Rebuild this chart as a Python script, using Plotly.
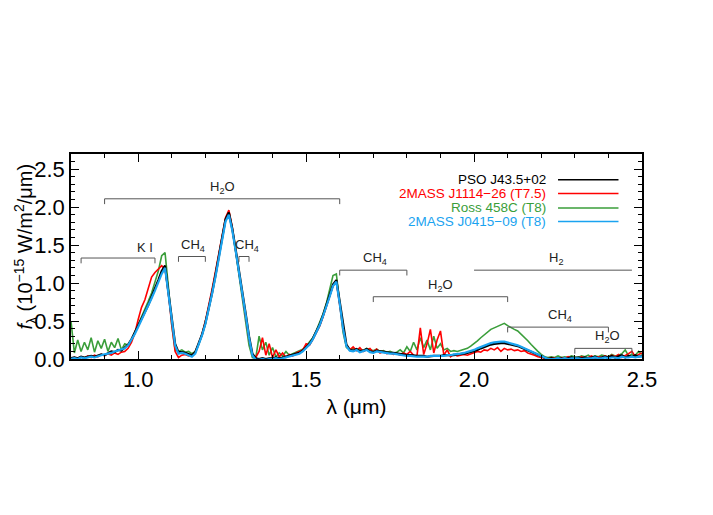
import numpy as np
import plotly.graph_objects as go

# wavelength grid (micron), 0.80 ... 2.50 in 0.01 steps
wave = np.round(np.linspace(0.80, 2.50, 171), 2)

# f_lambda in 1e-15 W/m2/um
pso = [0.01, 0.02, 0.01, 0.03, 0.02, 0.03, 0.04, 0.03, 0.05, 0.06,
       0.05, 0.08, 0.10, 0.09, 0.12, 0.11, 0.15, 0.19, 0.26, 0.35,
       0.44, 0.52, 0.61, 0.71, 0.82, 0.92, 1.04, 1.16, 1.23, 0.88,
       0.50, 0.20, 0.09, 0.09, 0.08, 0.06, 0.05, 0.09, 0.20, 0.32,
       0.47, 0.66, 0.87, 1.10, 1.34, 1.58, 1.84, 1.93, 1.72, 1.45,
       1.18, 0.88, 0.60, 0.30, 0.07, 0.01, 0.00, 0.01, 0.00, 0.01,
       0.01, 0.02, 0.01, 0.02, 0.03, 0.04, 0.05, 0.06, 0.08, 0.11,
       0.15, 0.20, 0.27, 0.35, 0.45, 0.57, 0.70, 0.84, 0.98, 1.04,
       0.75, 0.42, 0.19, 0.12, 0.11, 0.13, 0.10, 0.11, 0.13, 0.10,
       0.09, 0.11, 0.10, 0.10, 0.09, 0.08, 0.08, 0.07, 0.06, 0.06,
       0.05, 0.05, 0.04, 0.04, 0.04, 0.04, 0.03, 0.04, 0.04, 0.04,
       0.04, 0.05, 0.05, 0.05, 0.05, 0.06, 0.06, 0.07, 0.08, 0.09,
       0.11, 0.12, 0.14, 0.16, 0.17, 0.19, 0.20, 0.21, 0.21, 0.21,
       0.20, 0.19, 0.18, 0.17, 0.15, 0.13, 0.11, 0.09, 0.07, 0.05,
       0.03, 0.01, 0.00, 0.01, 0.00, 0.01, 0.01, 0.00, 0.01, 0.02,
       0.01, 0.02, 0.01, 0.02, 0.01, 0.02, 0.03, 0.01, 0.02, 0.03,
       0.02, 0.04, 0.02, 0.03, 0.05, 0.02, 0.04, 0.03, 0.05, 0.03,
       0.04]

j1114 = [0.00, 0.02, 0.00, 0.03, 0.01, 0.04, 0.02, 0.05, 0.03, 0.06,
         0.04, 0.07, 0.05, 0.08, 0.06, 0.09, 0.10, 0.14, 0.22, 0.34,
         0.52, 0.68, 0.78, 0.92, 1.08, 1.14, 1.18, 1.23, 1.18, 0.86,
         0.45, 0.10, 0.02, 0.05, 0.06, 0.04, 0.05, 0.09, 0.20, 0.33,
         0.50, 0.70, 0.92, 1.15, 1.38, 1.62, 1.86, 1.96, 1.74, 1.44,
         1.15, 0.84, 0.55, 0.26, 0.06, 0.02, 0.10, 0.28, 0.05, 0.20,
         0.02, 0.12, 0.03, 0.08, 0.02, 0.06, 0.04, 0.08, 0.10, 0.12,
         0.20, 0.18, 0.26, 0.34, 0.43, 0.55, 0.68, 0.82, 0.96, 1.02,
         0.72, 0.40, 0.18, 0.12, 0.16, 0.11, 0.15, 0.10, 0.12, 0.14,
         0.09, 0.13, 0.08, 0.10, 0.07, 0.08, 0.06, 0.07, 0.05, 0.08,
         0.06, 0.10, 0.05, 0.04, 0.41, 0.06, 0.20, 0.39, 0.08, 0.25,
         0.37, 0.05, 0.12, 0.03, 0.06, 0.04, 0.05, 0.06, 0.05, 0.07,
         0.08, 0.10, 0.09, 0.12, 0.11, 0.14, 0.12, 0.15, 0.10, 0.14,
         0.12, 0.13, 0.11, 0.12, 0.10, 0.11, 0.08, 0.07, 0.05, 0.03,
         0.02, 0.01, 0.00, 0.02, 0.01, 0.00, 0.02, 0.01, 0.03, 0.01,
         0.02, 0.00, 0.03, 0.01, 0.02, 0.04, 0.01, 0.03, 0.02, 0.04,
         0.02, 0.05, 0.03, 0.06, 0.02, 0.04, 0.07, 0.10, 0.03, 0.06,
         0.08]

ross458c = [0.50, 0.08, 0.25, 0.10, 0.22, 0.12, 0.28, 0.09, 0.24, 0.14,
            0.26, 0.10, 0.22, 0.15, 0.27, 0.12, 0.20, 0.18, 0.25, 0.35,
            0.45, 0.55, 0.64, 0.76, 0.87, 1.00, 1.16, 1.36, 1.40, 0.95,
            0.45, 0.12, 0.10, 0.12, 0.09, 0.10, 0.07, 0.10, 0.19, 0.32,
            0.48, 0.67, 0.89, 1.12, 1.36, 1.60, 1.84, 1.94, 1.72, 1.42,
            1.10, 0.80, 0.50, 0.18, 0.02, 0.01, 0.30, 0.12, 0.22, 0.05,
            0.15, 0.03, 0.08, 0.04, 0.10, 0.05, 0.07, 0.09, 0.10, 0.13,
            0.17, 0.22, 0.28, 0.37, 0.47, 0.59, 0.73, 0.90, 1.10, 1.12,
            0.70, 0.35, 0.15, 0.12, 0.14, 0.12, 0.13, 0.11, 0.14, 0.12,
            0.11, 0.13, 0.10, 0.11, 0.09, 0.10, 0.08, 0.09, 0.12, 0.08,
            0.16, 0.10, 0.22, 0.12, 0.28, 0.15, 0.25, 0.12, 0.30, 0.14,
            0.20, 0.12, 0.14, 0.10, 0.11, 0.10, 0.11, 0.12, 0.14, 0.17,
            0.20, 0.24, 0.28, 0.32, 0.36, 0.39, 0.41, 0.43, 0.45, 0.47,
            0.44, 0.41, 0.39, 0.37, 0.33, 0.28, 0.24, 0.19, 0.14, 0.10,
            0.06, 0.03, 0.02, 0.03, 0.02, 0.04, 0.02, 0.03, 0.02, 0.04,
            0.03, 0.02, 0.04, 0.03, 0.05, 0.02, 0.04, 0.03, 0.05, 0.04,
            0.03, 0.06, 0.04, 0.05, 0.07, 0.12, 0.04, 0.06, 0.05, 0.10,
            0.06]

j0415 = [0.00, 0.01, 0.00, 0.02, 0.01, 0.02, 0.03, 0.02, 0.04, 0.05,
         0.06, 0.07, 0.08, 0.10, 0.11, 0.12, 0.14, 0.18, 0.25, 0.33,
         0.42, 0.51, 0.60, 0.70, 0.80, 0.90, 1.01, 1.12, 1.20, 0.86,
         0.48, 0.18, 0.07, 0.08, 0.07, 0.05, 0.03, 0.07, 0.18, 0.31,
         0.46, 0.65, 0.86, 1.08, 1.32, 1.56, 1.81, 1.90, 1.70, 1.43,
         1.16, 0.86, 0.58, 0.28, 0.05, -0.01, -0.01, 0.00, -0.01, 0.00,
         0.00, 0.01, 0.00, 0.01, 0.02, 0.03, 0.04, 0.05, 0.07, 0.10,
         0.14, 0.19, 0.26, 0.34, 0.44, 0.56, 0.68, 0.82, 0.96, 1.02,
         0.73, 0.40, 0.17, 0.11, 0.10, 0.12, 0.09, 0.11, 0.12, 0.09,
         0.08, 0.10, 0.09, 0.09, 0.08, 0.07, 0.07, 0.06, 0.05, 0.05,
         0.04, 0.04, 0.03, 0.03, 0.03, 0.03, 0.03, 0.04, 0.04, 0.04,
         0.04, 0.04, 0.05, 0.05, 0.06, 0.06, 0.07, 0.08, 0.09, 0.10,
         0.12, 0.14, 0.16, 0.18, 0.19, 0.21, 0.22, 0.23, 0.23, 0.23,
         0.22, 0.21, 0.20, 0.18, 0.16, 0.14, 0.12, 0.10, 0.08, 0.05,
         0.03, 0.01, 0.00, 0.00, 0.00, 0.01, 0.00, 0.01, 0.00, 0.01,
         0.01, 0.01, 0.00, 0.01, 0.01, 0.01, 0.02, 0.01, 0.01, 0.02,
         0.01, 0.02, 0.02, 0.01, 0.03, 0.02, 0.02, 0.03, 0.02, 0.03,
         0.03]

names = ["PSO J43.5+02", "2MASS J1114\u221226 (T7.5)", "Ross 458C (T8)",
         "2MASS J0415\u221209 (T8)"]
colors = ["black", "#ff0000", "#3a9e3a", "#1aa3f0"]

# absorption bands: label, start, end, level, label x, end ticks?
bands = [
    ("H<sub>2</sub>O", 0.90, 1.60, 2.11, 1.25, True),
    ("K I", 0.83, 1.05, 1.33, 1.02, True),
    ("CH<sub>4</sub>", 1.12, 1.20, 1.35, 1.163, True),
    ("CH<sub>4</sub>", 1.30, 1.33, 1.35, 1.325, True),
    ("CH<sub>4</sub>", 1.60, 1.80, 1.17, 1.705, True),
    ("H<sub>2</sub>", 2.00, 2.47, 1.17, 2.245, False),
    ("H<sub>2</sub>O", 1.70, 2.10, 0.82, 1.90, True),
    ("CH<sub>4</sub>", 2.10, 2.40, 0.42, 2.255, True),
    ("H<sub>2</sub>O", 2.30, 2.47, 0.14, 2.398, True),
]

fig = go.Figure()
# draw order: comparison objects below, target and J0415 on top
for spec, i, w in [(ross458c, 2, 1.6), (j1114, 1, 1.6), (pso, 0, 2.2), (j0415, 3, 2.2)]:
    fig.add_trace(go.Scatter(x=wave, y=spec, mode="lines", name=names[i],
                             line=dict(color=colors[i], width=w),
                             showlegend=False))

font = "Liberation Sans, Arial, Helvetica, sans-serif"

for lab, x0, x1, yl, xl, ends in bands:
    fig.add_shape(type="line", x0=x0, x1=x1, y0=yl, y1=yl,
                  line=dict(color="#555555", width=1))
    if ends:
        for xe in (x0, x1):
            fig.add_shape(type="line", x0=xe, x1=xe, y0=yl, y1=yl - 0.07,
                          line=dict(color="#555555", width=1))
    fig.add_annotation(x=xl, y=yl, text=lab, showarrow=False,
                       yanchor="bottom", yshift=1,
                       font=dict(family=font, size=13, color="#222222"))

# hand-made legend: right-aligned text, line sample to the right
leg_y = [2.36, 2.18, 1.99, 1.81]
for i in range(4):
    fig.add_shape(type="line", x0=2.25, x1=2.43, y0=leg_y[i], y1=leg_y[i],
                  line=dict(color=colors[i], width=1.5))
    fig.add_annotation(x=2.22, y=leg_y[i], text=names[i], showarrow=False,
                       xanchor="right", yanchor="middle",
                       font=dict(family=font, size=13.5, color=colors[i]))

# y-axis title as a rotated annotation (sits a little above centre)
fig.add_annotation(xref="paper", yref="paper", x=-0.109, y=0.55,
                   text="<i>f</i><sub>\u03bb</sub> (10<sup>\u221215</sup> W/m<sup>2</sup>/\u03bcm)",
                   textangle=-90, showarrow=False,
                   xanchor="left", yanchor="middle",
                   font=dict(family=font, size=20, color="black"))

axis_common = dict(showline=True, linecolor="black", linewidth=1.5,
                   mirror="allticks", ticks="inside", ticklen=8,
                   tickwidth=1.2, tickcolor="black", showgrid=False,
                   zeroline=False, tickformat=".1f", automargin=False,
                   tickfont=dict(family=font, size=22, color="black"),
                   minor=dict(ticks="inside", ticklen=4, tickwidth=1,
                              tickcolor="black", dtick=0.1, showgrid=False))

fig.update_xaxes(range=[0.8, 2.5], dtick=0.5, tick0=0,
                 title=dict(text="\u03bb (\u03bcm)",
                            font=dict(family=font, size=21, color="black"),
                            standoff=8),
                 **axis_common)
fig.update_yaxes(range=[0, 2.7], dtick=0.5, tick0=0, **axis_common)

# the page body adds an 8 px margin, so the figure is a bit smaller and
# its left/top margins are reduced to keep the plot box in place
fig.update_layout(width=705, height=507,
                  margin=dict(l=63, r=71, t=146, b=156),
                  plot_bgcolor="white", paper_bgcolor="white",
                  showlegend=False)

fig.write_html("out.html")
